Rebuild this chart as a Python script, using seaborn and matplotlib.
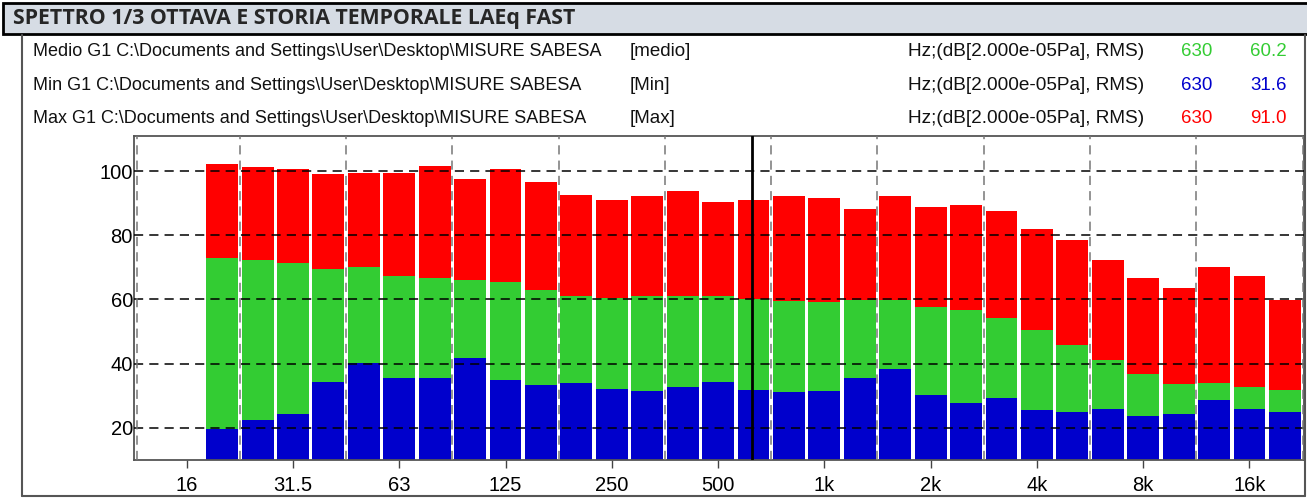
import numpy as np
import pandas as pd
import matplotlib
matplotlib.use("Agg")
import matplotlib.pyplot as plt
from matplotlib.patches import Rectangle
from matplotlib.lines import Line2D
from matplotlib import font_manager
import seaborn as sns

# 1/3-octave band centres (Hz) and their axis labels
bands = ["16", "20", "25", "31.5", "40", "50", "63", "80", "100", "125", "160",
         "200", "250", "315", "400", "500", "630", "800", "1k", "1.25k", "1.6k",
         "2k", "2.5k", "3.15k", "4k", "5k", "6.3k", "8k", "10k", "12.5k", "16k", "20k"]
tick_labels = ["16", "31.5", "63", "125", "250", "500", "1k", "2k", "4k", "8k", "16k"]

# Levels in dB (re 2e-5 Pa); no data in the 16 Hz band
level_max = [np.nan, 102.3, 101.4, 100.7, 99.2, 99.5, 99.5, 101.7, 97.7, 100.7, 96.7,
             92.6, 91.1, 92.3, 93.9, 90.4, 91.0, 92.3, 91.7, 88.2, 92.3,
             88.9, 89.5, 87.6, 82.0, 78.6, 72.3, 66.7, 63.6, 70.1, 67.3, 59.8]
level_medio = [np.nan, 73.0, 72.3, 71.4, 69.5, 70.1, 67.3, 66.7, 66.1, 65.5, 63.0,
               61.1, 60.5, 61.1, 61.1, 61.1, 60.2, 59.5, 59.2, 59.8, 59.8,
               57.7, 56.7, 54.2, 50.5, 45.8, 41.1, 36.7, 33.6, 33.9, 32.7, 31.8]
level_min = [np.nan, 19.6, 22.4, 24.3, 34.3, 40.2, 35.5, 35.5, 41.7, 34.9, 33.3,
             33.9, 32.1, 31.4, 32.7, 34.3, 31.6, 31.1, 31.4, 35.5, 38.3,
             30.1, 27.7, 29.3, 25.5, 24.9, 25.8, 23.6, 24.3, 28.6, 25.8, 24.9]

cursor_band = "630"
legend_rows = [
    ("Medio G1 C:\\Documents and Settings\\User\\Desktop\\MISURE SABESA", "[medio]", "#33cc33", "630", "60.2"),
    ("Min G1 C:\\Documents and Settings\\User\\Desktop\\MISURE SABESA", "[Min]", "#0000cc", "630", "31.6"),
    ("Max G1 C:\\Documents and Settings\\User\\Desktop\\MISURE SABESA", "[Max]", "#ff0000", "630", "91.0"),
]
units = "Hz;(dB[2.000e-05Pa], RMS)"
title = "SPETTRO 1/3 OTTAVA E STORIA TEMPORALE LAEq FAST"

RED, GREEN, BLUE = "#ff0000", "#33cc33", "#0000cc"

sns.set_theme(style="white")
plt.rcParams["font.family"] = ["Liberation Sans", "DejaVu Sans"]

installed = {f.name for f in font_manager.fontManager.ttflist}
tick_family = ["Liberation Sans Narrow"] if "Liberation Sans Narrow" in installed else ["Liberation Sans"]
tick_size = 16.5 if tick_family[0] == "Liberation Sans Narrow" else 14.5

df = pd.DataFrame({"band": bands, "max": level_max, "medio": level_medio, "min": level_min})

W, H = 1307, 498
fig = plt.figure(figsize=(W / 100, H / 100), dpi=100)
fig.patch.set_facecolor("white")

# Title bar
fig.patches.append(Rectangle((3 / W, 1 - 34 / H), 1.2, 31 / H, transform=fig.transFigure,
                             facecolor="#d6dce4", edgecolor="black", linewidth=2, zorder=0))
fig.text(13 / W, 1 - 18.5 / H, title, fontsize=15.3, fontweight="bold",
         family=["Open Sans", "DejaVu Sans"], va="center", ha="left")

# Outer frame of the chart panel
frame = dict(transform=fig.transFigure, color="#555555", linewidth=1.5)
fig.add_artist(Line2D([22 / W, 22 / W], [1 - 35 / H, 1 - 496 / H], **frame))
fig.add_artist(Line2D([22 / W, 1305 / W], [1 - 496 / H, 1 - 496 / H], **frame))
fig.add_artist(Line2D([1305 / W, 1305 / W], [1 - 35 / H, 1 - 496 / H], **frame))

# Legend rows
for i, (name, tag, col, freq, val) in enumerate(legend_rows):
    y = 1 - (52 + 33 * i) / H
    fig.text(33 / W, y, name, fontsize=13, va="center", ha="left", color="#111111")
    fig.text(630 / W, y, tag, fontsize=13.5, va="center", ha="left", color="#111111")
    fig.text(908 / W, y, units, fontsize=13.7, va="center", ha="left", color="#111111")
    fig.text(1181 / W, y, freq, fontsize=13.5, va="center", ha="left", color=col)
    fig.text(1250 / W, y, val, fontsize=13.5, va="center", ha="left", color=col)

ax = fig.add_axes([134.3 / W, 1 - 460.3 / H, (1304 - 134.3) / W, (460.3 - 135.7) / H])

# Overlaid bars: maximum, then mean, then minimum
for col, color in (("max", RED), ("medio", GREEN), ("min", BLUE)):
    sns.barplot(data=df, x="band", y=col, order=bands, color=color, saturation=1,
                width=0.9, ax=ax, errorbar=None, zorder=2, linewidth=0, edgecolor="none")

ax.set_xlim(-1.48, 31.54)
ax.set_ylim(9.8, 111.1)
ax.set_xlabel("")
ax.set_ylabel("")

# Ticks: octave labels on x, 20 dB steps on y
ax.set_xticks([bands.index(t) for t in tick_labels])
ax.set_xticklabels(tick_labels, family=tick_family)
ax.set_yticks([20, 40, 60, 80, 100])
ax.set_yticklabels(["20", "40", "60", "80", "100"], family=tick_family)
ax.tick_params(axis="x", which="major", bottom=True, length=6, width=1, color="#444444",
               pad=5, labelsize=tick_size, labelcolor="black")
ax.tick_params(axis="y", left=False, length=0, pad=1, labelsize=tick_size, labelcolor="black")

# Grid: horizontal dashed black, vertical dashed grey at octave-band edges
for yv in [20, 40, 60, 80, 100]:
    ax.axhline(yv, color="black", linestyle=(0, (6, 4)), linewidth=1.1, zorder=5)
for k in range(11):
    ax.axvline(1.5 + 3 * k, color="#777777", linestyle=(0, (6, 4)), linewidth=1.1, zorder=5)
ax.axvline(-1.4, color="#777777", linestyle=(0, (6, 4)), linewidth=1.1, zorder=5)

# Cursor at the selected band
ax.axvline(bands.index(cursor_band) - 0.04, color="black", linewidth=2, zorder=6)

for s in ax.spines.values():
    s.set_visible(True)
    s.set_color("#555555")
    s.set_linewidth(1.3)

fig.savefig("out.png", dpi=100, facecolor="white")
